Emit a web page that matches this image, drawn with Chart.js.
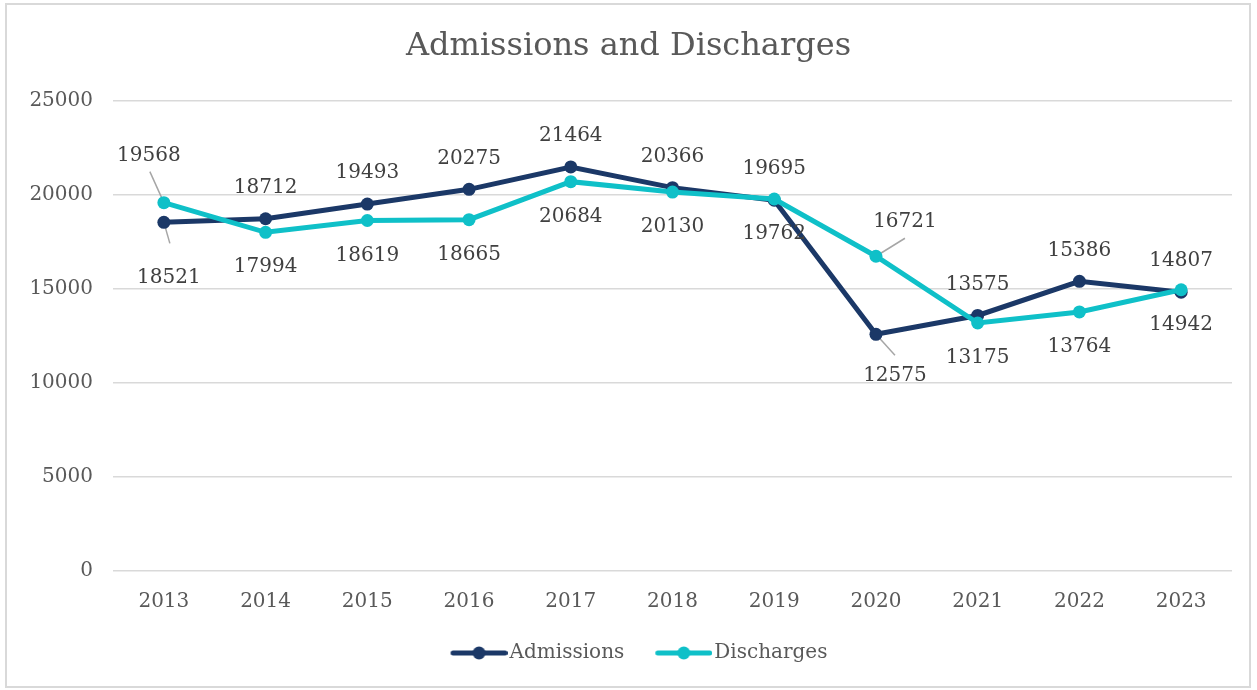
<!DOCTYPE html>
<html><head><meta charset="utf-8">
<script src="https://cdn.jsdelivr.net/npm/chart.js@4/dist/chart.umd.min.js"></script>
<style>html,body{margin:0;padding:0;background:#fff}#wrap{width:1257px;height:690px}</style>
</head><body><div id="wrap"><canvas id="c" width="1257" height="690"></canvas></div>
<script>
const years = ['2013','2014','2015','2016','2017','2018','2019','2020','2021','2022','2023'];
const admissions = [18521,18712,19493,20275,21464,20366,19695,12575,13575,15386,14807];
const discharges = [19568,17994,18619,18665,20684,20130,19762,16721,13175,13764,14942];
const yTickValues = [0,5000,10000,15000,20000,25000];
const seriesNames = ['Admissions','Discharges'];

const NAVY = '#1b3867';
const CYAN = '#0fc0c8';
const FONT = 'DejaVu Serif';

// legend symbol: line with a dot; transparent lead-in creates the gap between items
const LEAD = 21, BOXW = LEAD + 49;
function legendSymbol(color){
  const c=document.createElement('canvas'); c.width=BOXW+16; c.height=16;
  const g=c.getContext('2d');
  const x0=LEAD+8, x1=BOXW+16;
  g.strokeStyle=color; g.lineWidth=5; g.lineCap='round';
  g.beginPath(); g.moveTo(x0+2.5,8); g.lineTo(x1-2.5,8); g.stroke();
  g.fillStyle=color; g.beginPath(); g.arc((x0+x1)/2,8,6.5,0,2*Math.PI); g.fill();
  return c;
}
const symbols=[legendSymbol(NAVY),legendSymbol(CYAN)];

const frame = {
  id:'frame',
  beforeDraw(chart){
    const ctx=chart.ctx; ctx.save();
    ctx.fillStyle='#fff'; ctx.fillRect(0,0,chart.width,chart.height);
    ctx.strokeStyle='#d9d9d9'; ctx.lineWidth=2;
    ctx.strokeRect(6,4,1244,683);
    ctx.restore();
  }
};

const pointLabels = {
  id:'pointLabels',
  beforeDatasetsDraw(chart,args,opts){
    const ctx=chart.ctx; ctx.save();
    ctx.strokeStyle='#a6a6a6'; ctx.lineWidth=1.5;
    chart.data.datasets.forEach((ds,i)=>{
      const meta=chart.getDatasetMeta(i);
      meta.data.forEach((pt,j)=>{
        const p=opts.placement[i][j];
        if(typeof p==='object' && p.lead){
          ctx.beginPath(); ctx.moveTo(pt.x,pt.y); ctx.lineTo(pt.x+p.lead[0],pt.y+p.lead[1]); ctx.stroke();
        }
      });
    });
    ctx.restore();
  },
  afterDatasetsDraw(chart,args,opts){
    const ctx=chart.ctx; ctx.save();
    ctx.font='20px "'+FONT+'"'; ctx.fillStyle='#404040';
    ctx.textAlign='center'; ctx.textBaseline='middle';
    chart.data.datasets.forEach((ds,i)=>{
      const meta=chart.getDatasetMeta(i);
      meta.data.forEach((pt,j)=>{
        const p=opts.placement[i][j];
        let dx=0,dy=0;
        if(p==='a'){dy=opts.above;} else if(p==='b'){dy=opts.below;} else {dx=p.dx;dy=p.dy;}
        ctx.fillText(String(ds.data[j]),pt.x+dx,pt.y+dy);
      });
    });
    ctx.restore();
  }
};

new Chart(document.getElementById('c'),{
  type:'line',
  data:{
    labels:years,
    datasets:[
      {label:seriesNames[0],data:admissions,borderColor:NAVY,backgroundColor:NAVY,borderWidth:5,
       pointRadius:6.5,pointBorderWidth:0,pointBackgroundColor:NAVY,tension:0,order:1},
      {label:seriesNames[1],data:discharges,borderColor:CYAN,backgroundColor:CYAN,borderWidth:5,
       pointRadius:6.5,pointBorderWidth:0,pointBackgroundColor:CYAN,tension:0,order:0}
    ]
  },
  options:{
    responsive:false,animation:false,devicePixelRatio:1,
    layout:{padding:{top:5,left:25,right:25,bottom:17}},
    scales:{
      x:{offset:true,grid:{display:false,drawTicks:false},border:{display:false},
         ticks:{color:'#595959',font:{family:FONT,size:20},padding:19},
         afterFit(s){s.height=62;}},
      y:{min:0,max:25000,
         afterBuildTicks(s){s.ticks=yTickValues.map(v=>({value:v}));},
         grid:{color:'#d9d9d9',lineWidth:1.5,drawTicks:false},border:{display:false},
         ticks:{color:'#595959',font:{family:FONT,size:20},padding:20,callback:v=>String(v)},
         afterFit(s){s.width=88;}}
    },
    plugins:{
      title:{display:true,text:'Admissions and Discharges',color:'#595959',
        font:{family:FONT,size:32,weight:'normal'},padding:{top:22,bottom:35}},
      legend:{position:'bottom',
        labels:{usePointStyle:true,pointStyleWidth:BOXW,padding:10,color:'#595959',
          font:{family:FONT,size:20},
          generateLabels(chart){
            return chart.data.datasets.map((ds,i)=>({text:ds.label,pointStyle:symbols[i],
              fillStyle:ds.borderColor,strokeStyle:ds.borderColor,lineWidth:0,
              hidden:!chart.isDatasetVisible(i),datasetIndex:i,fontColor:'#595959'}));
          }}},
      tooltip:{enabled:false},
      pointLabels:{
        above:-31, below:35,
        placement:[
          [{dx:5,dy:55,lead:[6,21]},'a','a','a','a','a','a',{dx:19,dy:42,lead:[19,21]},'a','a','a'],
          [{dx:-15,dy:-47,lead:[-14,-31]},'b','b','b','b','b','b',{dx:29,dy:-34,lead:[29,-18]},'b','b','b']
        ]
      }
    }
  },
  plugins:[frame,pointLabels]
});
</script></body></html>
